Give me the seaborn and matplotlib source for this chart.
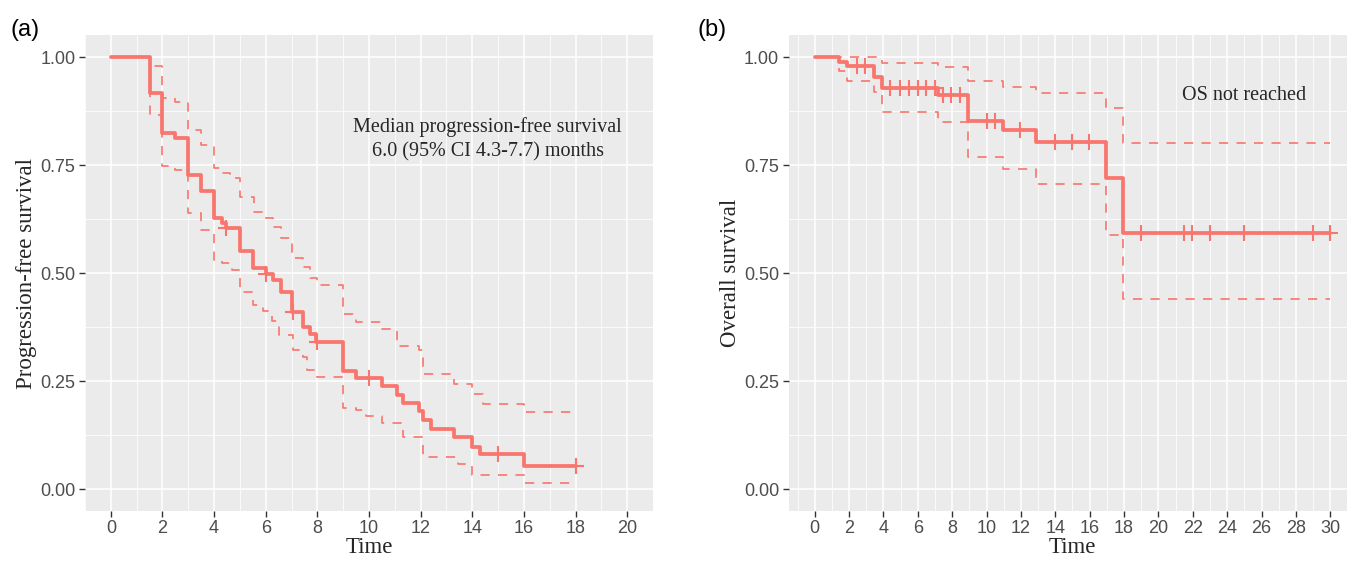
import numpy as np
import matplotlib
matplotlib.use("Agg")
import matplotlib.pyplot as plt
import seaborn as sns
from matplotlib.ticker import MultipleLocator, FormatStrFormatter

# ---- (a) progression-free survival ----
pfs_time = [0, 1.5, 1.98, 2.48, 2.98, 3.48, 3.98, 4.3, 4.45, 5.0, 5.5, 6.0, 6.3, 6.6,
            7.0, 7.45, 7.7, 7.95, 9.0, 9.5, 10.5, 11.1, 11.3, 11.95, 12.1, 12.4, 13.3,
            14.0, 14.3, 16.0, 18.0]
pfs_surv = [1.0, 0.917, 0.824, 0.812, 0.727, 0.69, 0.627, 0.615, 0.604, 0.551, 0.512,
            0.498, 0.485, 0.455, 0.41, 0.375, 0.358, 0.34, 0.273, 0.257, 0.238, 0.218,
            0.2, 0.18, 0.16, 0.14, 0.12, 0.098, 0.08, 0.053, 0.053]
pfs_up_time = [0, 1.5, 1.98, 2.48, 2.98, 3.48, 3.98, 4.3, 4.6, 5.0, 5.55, 6.0, 6.3, 6.6,
               7.0, 7.45, 7.7, 8.0, 9.0, 9.5, 10.5, 11.1, 11.95, 12.1, 13.3, 14.0, 14.4,
               16.0, 18.0]
pfs_up = [1.0, 0.98, 0.905, 0.897, 0.83, 0.796, 0.743, 0.731, 0.72, 0.676, 0.641, 0.627,
          0.606, 0.58, 0.535, 0.514, 0.488, 0.472, 0.405, 0.387, 0.37, 0.33, 0.322, 0.266,
          0.243, 0.22, 0.197, 0.178, 0.178]
pfs_lo_time = [0, 1.5, 1.98, 2.48, 2.98, 3.48, 3.98, 4.3, 4.7, 5.0, 5.5, 5.9, 6.24, 6.5,
               7.05, 7.45, 7.6, 8.0, 9.0, 9.5, 9.9, 10.5, 11.3, 12.1, 13.45, 14.0, 16.0,
               18.0]
pfs_lo = [1.0, 0.865, 0.748, 0.738, 0.638, 0.6, 0.53, 0.523, 0.507, 0.456, 0.426, 0.412,
          0.39, 0.357, 0.322, 0.306, 0.275, 0.259, 0.187, 0.183, 0.169, 0.153, 0.12,
          0.074, 0.058, 0.032, 0.014, 0.014]
pfs_censor = [4.45, 6.0, 7.05, 8.0, 10.0, 15.0, 18.0]

# ---- (b) overall survival ----
os_time = [0, 1.4, 1.9, 3.45, 3.9, 7.15, 8.9, 10.95, 12.9, 16.95, 17.95, 30]
os_surv = [1.0, 0.988, 0.979, 0.954, 0.928, 0.912, 0.852, 0.831, 0.803, 0.72, 0.593, 0.593]
os_up_time = [0, 3.9, 7.15, 8.9, 10.95, 12.9, 16.95, 17.95, 30]
os_up = [1.0, 0.986, 0.977, 0.944, 0.931, 0.917, 0.882, 0.8, 0.8]
os_lo_time = [0, 1.4, 1.9, 3.45, 3.9, 7.15, 8.9, 10.95, 12.9, 16.95, 17.95, 30]
os_lo = [1.0, 0.968, 0.944, 0.919, 0.873, 0.85, 0.769, 0.741, 0.706, 0.588, 0.44, 0.44]
os_censor = [2.45, 2.9, 4.4, 4.95, 5.5, 6.0, 6.5, 7.0, 7.45, 7.95, 8.45, 10.0, 10.5,
             11.95, 14.0, 14.95, 15.95, 19.0, 21.5, 21.95, 23.0, 25.0, 29.0, 30.0]

RED = "#F8766D"
SERIF = "Liberation Serif"
SANS = "Liberation Sans"

sns.set_theme(style="darkgrid")
plt.rcParams["font.family"] = [SANS, "DejaVu Sans"]


def step_at(times, vals, pts):
    # survival level of the step curve at each censor time
    idx = np.searchsorted(times, pts, side="right") - 1
    return np.asarray(vals)[idx]


def km_panel(ax, t, s, ut, u, lt, l, cens, xmax, ylabel):
    sns.lineplot(x=ut, y=u, ax=ax, color=RED, lw=1.2, linestyle=(0, (5.5, 5)),
                 drawstyle="steps-post", estimator=None, errorbar=None, sort=False)
    sns.lineplot(x=lt, y=l, ax=ax, color=RED, lw=1.2, linestyle=(0, (5.5, 5)),
                 drawstyle="steps-post", estimator=None, errorbar=None, sort=False)
    sns.lineplot(x=t, y=s, ax=ax, color=RED, lw=2.7, drawstyle="steps-post",
                 estimator=None, errorbar=None, sort=False)
    sns.scatterplot(x=cens, y=step_at(t, s, cens), ax=ax, marker="+", s=130,
                    linewidth=1.5, color=RED, zorder=4)

    ax.set_facecolor("#EBEBEB")
    for sp in ax.spines.values():
        sp.set_visible(False)
    ax.set_xlim(-xmax * 0.05, xmax * 1.05)
    ax.set_ylim(-0.05, 1.05)
    ax.xaxis.set_major_locator(MultipleLocator(2))
    ax.xaxis.set_minor_locator(MultipleLocator(1))
    ax.yaxis.set_major_locator(MultipleLocator(0.25))
    ax.yaxis.set_minor_locator(MultipleLocator(0.125))
    ax.yaxis.set_major_formatter(FormatStrFormatter("%.2f"))
    ax.grid(which="major", color="white", lw=1.1)
    ax.grid(which="minor", color="white", lw=0.55)
    ax.set_axisbelow(True)
    ax.tick_params(which="major", length=4, width=1, color="#333333",
                   labelcolor="#4D4D4D", labelsize=13, pad=3, bottom=True, left=True)
    ax.tick_params(which="minor", length=0)
    ax.set_xlabel("Time", family=SERIF, fontsize=16.5, labelpad=0)
    ax.set_ylabel(ylabel, family=SERIF, fontsize=16.5, labelpad=2)


fig = plt.figure(figsize=(13.47, 5.61), dpi=100)
ax1 = fig.add_axes([0.0631, 0.0898, 0.4217, 0.847])
ax2 = fig.add_axes([0.5857, 0.0898, 0.421, 0.847])

km_panel(ax1, pfs_time, pfs_surv, pfs_up_time, pfs_up, pfs_lo_time, pfs_lo,
         pfs_censor, 20, "Progression-free survival")
km_panel(ax2, os_time, os_surv, os_up_time, os_up, os_lo_time, os_lo,
         os_censor, 30, "Overall survival")

ax1.text(14.6, 0.81, "Median progression-free survival\n6.0 (95% CI 4.3-7.7) months",
         ha="center", va="center", family=SERIF, fontsize=14.5, linespacing=1.35)
ax2.text(25.0, 0.912, "OS not reached", ha="center", va="center", family=SERIF,
         fontsize=14.5)

fig.text(0.0075, 0.947, "(a)", fontsize=17, va="center", color="black")
fig.text(0.5175, 0.947, "(b)", fontsize=17, va="center", color="black")

fig.savefig("out.png", dpi=100)
